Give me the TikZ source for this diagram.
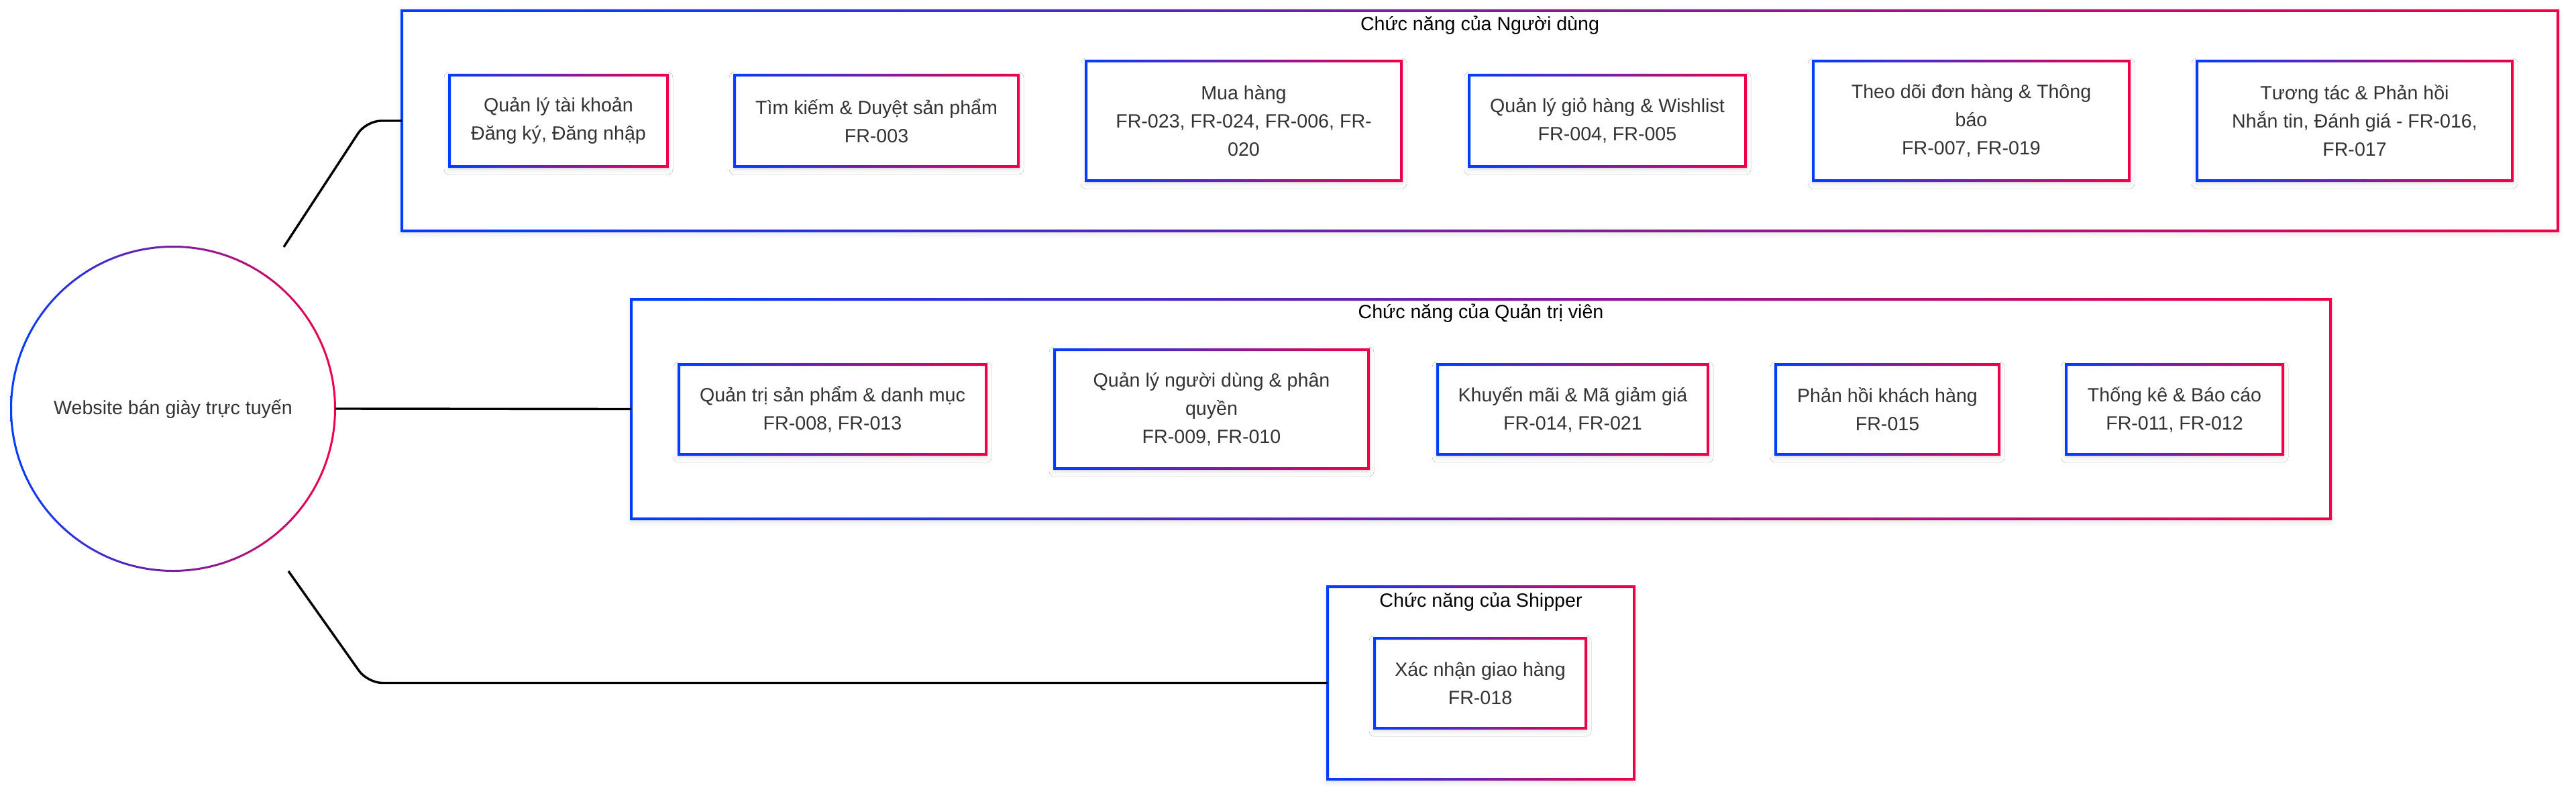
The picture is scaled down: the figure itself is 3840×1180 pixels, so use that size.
\documentclass[tikz,border=0pt]{standalone}
\usepackage{fontspec}
\setmainfont{Liberation Sans}
\usetikzlibrary{calc,shadows.blur}
\definecolor{gblue}{RGB}{0,61,255}
\definecolor{gred}{RGB}{240,0,72}
\definecolor{txtgray}{RGB}{51,51,51}

\begin{document}
\begin{tikzpicture}[x=1pt,y=1pt,yscale=-1,
  font=\fontsize{28.6}{42}\selectfont,
  frame/.style={rectangle,fill=white,inner sep=0pt,outer sep=0pt,
    blur shadow={shadow xshift=0pt,shadow yshift=-4pt,shadow blur radius=8pt,shadow opacity=14}},
  func/.style={frame,align=center,text=txtgray},
  title/.style={inner sep=0pt,text=black},
  gradline/.style={left color=gblue,right color=gred,even odd rule},
  link/.style={line width=3.4pt,rounded corners=22pt}]
\useasboundingbox (0,0) rectangle (3840,1180);

%Shape: Rectangle (frames)
\node[frame,minimum width=3214pt,minimum height=328pt] (user) at (2206,180) {};
\node[frame,minimum width=2533pt,minimum height=327pt] (admin) at (2207.5,609.5) {};
\node[frame,minimum width=457pt,minimum height=287pt] (ship) at (2207.5,1017.5) {};

% Text Node
\node[title] (userT) at (2206,38) {Chức năng của Người dùng};
% Text Node
\node[title] (adminT) at (2207.5,467) {Chức năng của Quản trị viên};
% Text Node
\node[title] (shipT) at (2207.5,897) {Chức năng của Shipper};

%Shape: Rectangle (user functions)
\node[func,minimum width=325pt,minimum height=136pt] (acc) at (832.5,180) {Quản lý tài khoản\\Đăng ký, Đăng nhập};
\node[func,minimum width=423pt,minimum height=136pt] (search) at (1306.5,180) {Tìm kiếm \& Duyệt sản phẩm\\FR-003};
\node[func,minimum width=470pt,minimum height=178pt] (buy) at (1854,180) {Mua hàng\\FR-023, FR-024, FR-006, FR-\\020};
\node[func,minimum width=412pt,minimum height=136pt] (cart) at (2396,180) {Quản lý giỏ hàng \& Wishlist\\FR-004, FR-005};
\node[func,minimum width=471pt,minimum height=178pt] (track) at (2938.5,180) {Theo dõi đơn hàng \& Thông\\báo\\FR-007, FR-019};
\node[func,minimum width=470pt,minimum height=178pt] (talk) at (3510,180) {Tương tác \& Phản hồi\\Nhắn tin, Đánh giá - FR-016,\\FR-017};

%Shape: Rectangle (admin functions)
\node[func,minimum width=458pt,minimum height=134pt] (prod) at (1241,610) {Quản trị sản phẩm \& danh mục\\FR-008, FR-013};
\node[func,minimum width=468pt,minimum height=177pt] (usr) at (1806,609.5) {Quản lý người dùng \& phân\\quyền\\FR-009, FR-010};
\node[func,minimum width=403pt,minimum height=134pt] (promo) at (2344.5,610) {Khuyến mãi \& Mã giảm giá\\FR-014, FR-021};
\node[func,minimum width=333pt,minimum height=134pt] (fb) at (2813.5,610) {Phản hồi khách hàng\\FR-015};
\node[func,minimum width=323pt,minimum height=134pt] (stat) at (3241.5,610) {Thống kê \& Báo cáo\\FR-011, FR-012};

%Shape: Rectangle (shipper function)
\node[func,minimum width=315pt,minimum height=134pt] (deliv) at (2206.5,1018) {Xác nhận giao hàng\\FR-018};

%Shape: Circle
\node[circle,fill=white,inner sep=0pt,minimum size=483pt,text=txtgray] (root) at (258,609) {Website bán giày trực tuyến};

%Gradient borders
\foreach \n in {user,admin,ship,acc,search,buy,cart,track,talk,prod,usr,promo,fb,stat,deliv}
  \shade[gradline] ($(\n.north west)+(-2,-2)$) rectangle ($(\n.south east)+(2,2)$)
    ($(\n.north west)+(2,2)$) rectangle ($(\n.south east)+(-2,-2)$);
\shade[gradline] (root.center) circle (243) (root.center) circle (240);

%Connectors
\coordinate (userStart) at (423,368);
\coordinate (userBend) at (546,180);
\draw[link] (userStart) -- (userBend) -- (user.west);
\draw[link] (root.east) -- (admin.west);
\coordinate (shipStart) at (430,851);
\coordinate (shipBend) at (548,1017.5);
\draw[link] (shipStart) -- (shipBend) -- (ship.west);

\end{tikzpicture}
\end{document}
